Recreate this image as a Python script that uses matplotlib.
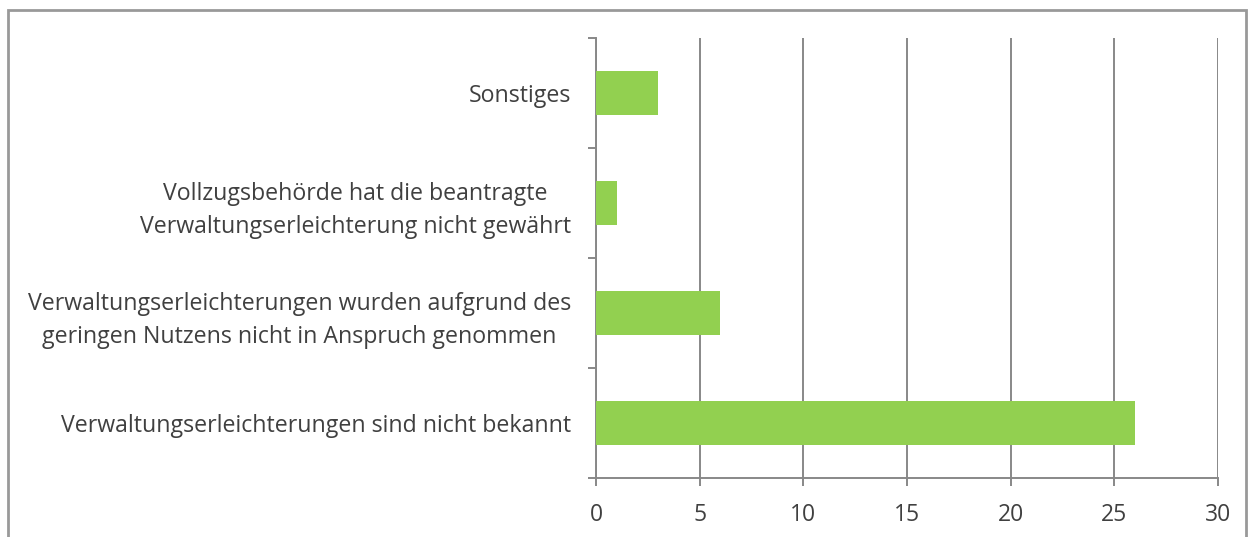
import matplotlib.pyplot as plt
from matplotlib.patches import Rectangle

categories = [
    "Verwaltungserleichterungen sind nicht bekannt",
    "Verwaltungserleichterungen wurden aufgrund des\ngeringen Nutzens nicht in Anspruch genommen",
    "Vollzugsbehörde hat die beantragte\nVerwaltungserleichterung nicht gewährt",
    "Sonstiges",
]
values = [26, 6, 1, 3]
x_ticks = [0, 5, 10, 15, 20, 25, 30]

plt.rcParams["font.family"] = ["Open Sans", "DejaVu Sans"]

W, H = 1248, 537
fig = plt.figure(figsize=(W / 100, H / 100), dpi=100)
ax = fig.add_axes([596 / W, 1 - 478 / H, (1218 - 596) / W, (478 - 38) / H])

grey = "#888888"
pos = list(range(len(categories)))
ax.barh(pos, values, height=0.4, color="#92D050", zorder=3)

ax.set_xlim(0, 30)
ax.set_ylim(-0.5, len(categories) - 0.5)
ax.set_xticks(x_ticks)
ax.set_xticklabels([str(t) for t in x_ticks], fontsize=16.5, color="#404040")
ax.set_yticks([p - 0.5 for p in pos] + [len(categories) - 0.5])
ax.set_yticklabels([])
ax.set_yticks(pos, minor=True)
ax.set_yticklabels(categories, minor=True, fontsize=16.7, color="#404040",
                   multialignment="center", linespacing=1.5)
ax.tick_params(axis="y", which="minor", length=0, pad=18)
ax.tick_params(axis="y", which="major", length=6, width=1.4, color=grey)
ax.tick_params(axis="x", length=6, width=1.4, color=grey, pad=12)

ax.grid(axis="x", color=grey, linewidth=1.4, zorder=0)
for s in ["top", "right"]:
    ax.spines[s].set_visible(False)
for s in ["left", "bottom"]:
    ax.spines[s].set_color(grey)
    ax.spines[s].set_linewidth(1.4)

# outer chart border (bottom edge lies outside the image)
fig.patches.append(Rectangle((7.5 / W, -0.05), (1246 - 7.5) / W, 1.05 - 9.5 / H,
                             transform=fig.transFigure, fill=False,
                             edgecolor="#999999", linewidth=2))

fig.savefig("out.png", dpi=100)
